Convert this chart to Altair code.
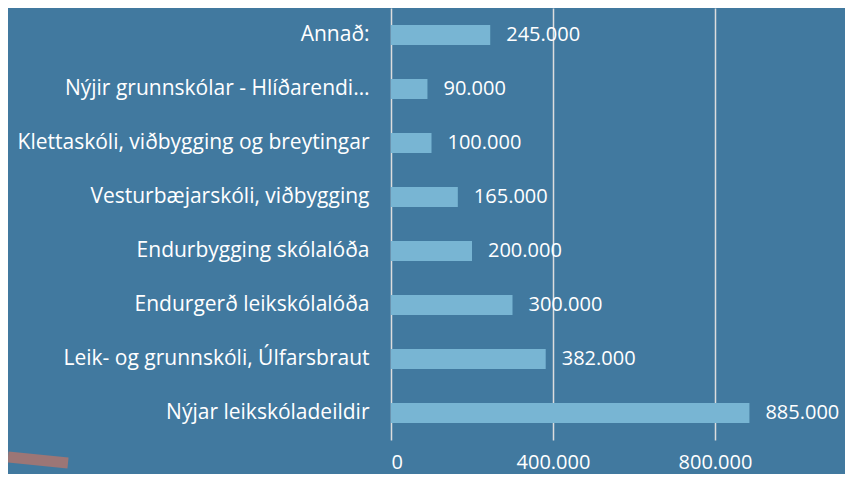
import altair as alt
import pandas as pd

categories = [
    "Annað:",
    "Nýjir grunnskólar - Hlíðarendi…",
    "Klettaskóli, viðbygging og breytingar",
    "Vesturbæjarskóli, viðbygging",
    "Endurbygging skólalóða",
    "Endurgerð leikskólalóða",
    "Leik- og grunnskóli, Úlfarsbraut",
    "Nýjar leikskóladeildir",
]
values = [245000, 90000, 100000, 165000, 200000, 300000, 382000, 885000]
x_ticks = [0, 400000, 800000]

df = pd.DataFrame({"cat": categories, "val": values})
df["label"] = [f"{v:,}".replace(",", ".") for v in values]

FONT = "Open Sans"
BG = "#41799F"
BAR = "#78B5D3"

y = alt.Y("cat:N", sort=None, title=None,
          axis=alt.Axis(labelColor="white", labelFontSize=21, labelFont=FONT,
                        labelPadding=22, labelLimit=420, ticks=False, domain=False))
x = alt.X("val:Q", title=None,
          scale=alt.Scale(domain=[0, 1000000], nice=False),
          axis=alt.Axis(values=x_ticks, labelColor="white", labelFontSize=20, labelFont=FONT,
                        labelPadding=12, ticks=False, domain=False, grid=True,
                        gridColor="#DDDDDD", gridWidth=1.5,
                        labelExpr="replace(format(datum.value, ','), ',', '.')"))

bars = alt.Chart(df).mark_bar(color=BAR, size=20).encode(x=x, y=y)
labels = alt.Chart(df).mark_text(align="left", baseline="middle", dx=16, color="white",
                                 fontSize=20, font=FONT).encode(
    x="val:Q", y=alt.Y("cat:N", sort=None), text="label:N")

# decorative swoosh in the lower-left corner of the slide
swoosh = alt.Chart(pd.DataFrame({"d": [0]})).mark_rule(
    color="#9C7676", strokeWidth=11, strokeCap="butt").encode(
    x=alt.value(-383), x2=alt.value(-323), y=alt.value(449), y2=alt.value(455))

chart = (bars + labels + swoosh).properties(
    width=405, height=432,
    autosize=alt.AutoSizeParams(type="none"),
    padding={"left": 383, "top": 0, "right": 49, "bottom": 34},
    background=BG,
).configure_view(stroke=None)

chart.save("out.html", embed_options={"renderer": "svg", "actions": False})
